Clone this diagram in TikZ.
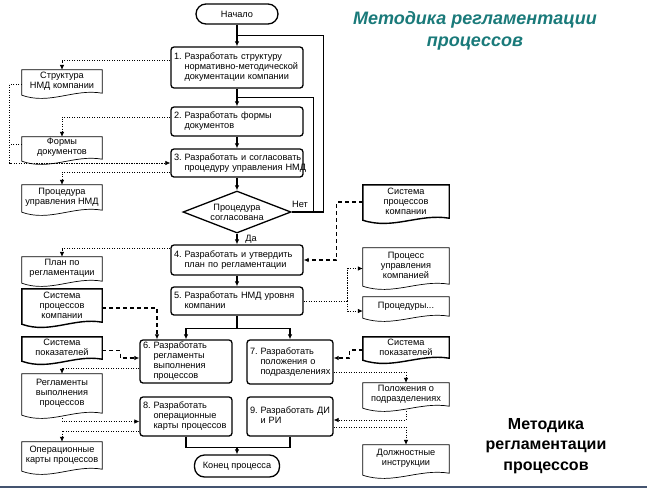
\documentclass[tikz,border=0pt]{standalone}
\usepackage{fontspec}
\setmainfont{Liberation Sans}
\usetikzlibrary{arrows.meta,shapes.geometric,calc}
\definecolor{teal1}{RGB}{26,122,122}
\definecolor{bline}{RGB}{68,84,112}
\newcommand{\mtext}[2]{\makebox[10.5pt][l]{#1}\begin{tabular}[t]{@{}l@{}}#2\end{tabular}}
\tikzset{
 txt/.style={font=\fontsize{9.2}{10}\selectfont},
 mainbox/.style={txt, draw, line width=1.3pt, rounded corners=3pt, inner xsep=3pt, inner ysep=0pt, align=left},
 pill/.style={txt, draw, line width=1.3pt, rounded corners=10pt, inner sep=0pt},
 flow/.style={line width=1.2pt, -{Latex[length=5pt,width=4.5pt]}},
 flowline/.style={line width=1.2pt},
 outd/.style={line width=0.7pt, dash pattern=on 1.2pt off 1.3pt, -{Latex[length=5pt,width=4.5pt]}},
 outl/.style={line width=0.7pt, dash pattern=on 1.2pt off 1.3pt},
 ind/.style={line width=1.3pt, dash pattern=on 4pt off 3pt, -{Latex[length=5pt,width=4.5pt]}},
 docbox/.style={draw=none, inner sep=0pt},
 doctext/.style={txt, inner sep=0pt, align=center},
 docthin/.style={line width=0.7pt},
 docthick/.style={line width=1.4pt},
}
\newcommand{\docu}[7][docthin]{%
 \node[docbox, minimum width=#5, minimum height=#6] (#2) at (#3,#4) {};
 \node[doctext] (#2t) at ([yshift=3pt]#2.center) {#7};
 \draw[#1] (#2.north west) -- (#2.north east) -- ([yshift=5pt]#2.south east)
   .. controls ([xshift={-0.35*#5pt},yshift=10pt]#2.south east) and ([xshift={0.35*#5pt},yshift=-7pt]#2.south west) .. ([yshift=3pt]#2.south west) -- cycle;
}
\begin{document}
\begin{tikzpicture}[x=1pt,y=-1pt]
\useasboundingbox (0,0) rectangle (647,488);
\fill[white] (0,0) rectangle (647,488);
\fill[bline] (0,485.5) rectangle (647,488);

% titles
\node[font=\fontsize{18}{22}\selectfont\bfseries\itshape, text=teal1, align=center] (title) at (475,31) {Методика регламентации\\процессов};
\node[font=\fontsize{16}{20.5}\selectfont\bfseries, align=center] (sub) at (546,446) {Методика\\регламентации\\процессов};

% main flow
\node[pill, minimum width=82, minimum height=20] (start) at (237,14) {Начало};
\node[mainbox, minimum width=132, text width=126, minimum height=41] (b1) at (237,67.5) {\mtext{1.}{Разработать структуру\\нормативно-методической\\документации компании}};
\node[mainbox, minimum width=132, text width=126, minimum height=29] (b2) at (237,121.5) {\mtext{2.}{Разработать формы\\документов}};
\node[mainbox, minimum width=132, text width=126, minimum height=28] (b3) at (237,163) {\mtext{3.}{Разработать и согласовать\\процедуру управления НМД}};
\node[txt, draw, diamond, line width=1.3pt, aspect=2.6, inner sep=0pt, minimum width=108, minimum height=42, align=center] (dia) at (237,212) {Процедура\\согласована};
\node[mainbox, minimum width=132, text width=126, minimum height=30] (b4) at (237,260) {\mtext{4.}{Разработать и утвердить\\план по регламентации}};
\node[mainbox, minimum width=132, text width=126, minimum height=28] (b5) at (237,301) {\mtext{5.}{Разработать НМД уровня\\компании}};
\node[mainbox, minimum width=92, text width=86, minimum height=43] (b6) at (186,361.5) {\mtext{6.}{Разработать\\регламенты\\выполнения\\процессов}};
\node[mainbox, minimum width=86, text width=80, minimum height=44] (b7) at (290,362) {\mtext{7.}{Разработать\\положения о\\подразделениях}};
\node[mainbox, minimum width=92, text width=86, minimum height=39] (b8) at (186,416.5) {\mtext{8.}{Разработать\\операционные\\карты процессов}};
\node[mainbox, minimum width=86, text width=80, minimum height=39] (b9) at (290,416.5) {\mtext{9.}{Разработать ДИ\\и РИ}};
\node[pill, minimum width=85, minimum height=22] (end) at (237,466) {Конец процесса};

\node[txt, inner sep=0pt] (net) at (300,204) {Нет};
\node[txt, inner sep=0pt] (da) at (251,239) {Да};

\draw[flow] (start) -- (b1);
\draw[flow] (b1) -- (b2);
\draw[flow] (b2) -- (b3);
\draw[flow] (b3) -- (dia);
\draw[flow] (dia) -- (b4);
\draw[flow] (b4) -- (b5);
\draw[flowline] (dia.east) -- ++(32,0) |- ($(start.south)!0.5!(b1.north)$);
\draw[flowline] (dia.east) -- ++(22,0) |- ($(b1.south)!0.5!(b2.north)$);
\draw[flowline] (b5.south) -- ++(0,13) coordinate (sp);
\draw[flow] (sp) -| (b6.north);
\draw[flow] (sp) -| (b7.north);
\draw[flowline] (b8.south) -- ++(0,11) coordinate (mg) -| (b9.south);
\draw[flow] (mg -| end.north) -- (end.north);

% left documents
\docu{s1}{62}{84}{80}{28}{Структура\\НМД компании}
\docu{s2}{62}{150.5}{80}{27}{Формы\\документов}
\docu{s3}{62}{200}{80}{30}{Процедура\\управления НМД}
\docu{s4}{62}{271.5}{80}{29}{План по\\регламентации}
\docu[docthick]{s5}{62}{308}{80}{38}{Система\\процессов\\компании}
\docu[docthick]{s6}{62}{350.5}{80}{27}{Система\\показателей}
\docu{s7}{62}{396}{80}{44}{Регламенты\\выполнения\\процессов}
\docu{s8}{62}{458}{80}{32}{Операционные\\карты процессов}

% right documents
\docu[docthick]{r1}{406}{204}{86}{38}{Система\\процессов\\компании}
\docu{r2}{406}{268.5}{86}{41}{Процесс\\управления\\компанией}
\docu{r3}{406}{309}{86}{24}{Процедуры...}
\docu[docthick]{r4}{406}{350}{86}{26}{Система\\показателей}
\docu{r5}{406}{397}{86}{28}{Положения о\\подразделениях}
\docu{r6}{406}{461.5}{86}{33}{Должностные\\инструкции}

% outputs (dotted)
\draw[outd] ([yshift=7pt]b1.west) -| (s1.north);
\draw[outd] ([yshift=4.5pt]b2.west) -| (s2.north);
\draw[outd] (s1.west) -- ++(-12,0) |- (b3.west);
\draw[outl] ([yshift=6pt]s2.west) -- ++(-12,0);
\draw[outd] ([yshift=-9pt]b3.west) -| (s3.north);
\draw[outd] ([yshift=11.5pt]b4.west) -| (s4.north);
\draw[outl] (b5.east) -- ++(44,0) coordinate (j5);
\draw[outd] (j5) |- (r2.west);
\draw[outd] (j5) |- ([yshift=-2pt]r3.west);
\draw[outd] ([yshift=-6.5pt]b6.west) -| (s7.north);
\draw[outd] (s7.south) |- ([yshift=-5pt]b8.west);
\draw[outd] ([yshift=-14.5pt]b8.west) -| (s8.north);
\draw[outd] ([yshift=-10pt]b7.east) -| (r5.north);
\draw[outd] (r5.south) |- ([yshift=-3.5pt]b9.east);
\draw[outd] ([yshift=-10.5pt]b9.east) -| (r6.north);

% inputs (dashed)
\draw[ind] ([yshift=2pt]r1.west) -- ++(-26,0) |- (b4.east);
\draw[ind] (s5.east) -| ([xshift=-29pt]b6.north);
\draw[ind] (s6.east) -- ++(18,0) |- ([yshift=3.5pt]b6.west);
\draw[ind] (r4.west) -- ++(-13,0) |- ([yshift=4pt]b7.east);
\end{tikzpicture}
\end{document}
